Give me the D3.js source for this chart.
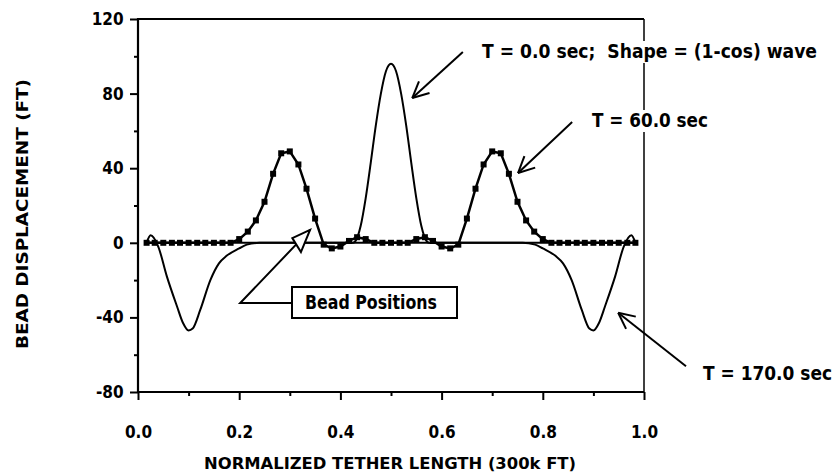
<!DOCTYPE html>
<html>
<meta charset="utf-8">
<script src="https://cdnjs.cloudflare.com/ajax/libs/d3/7.8.5/d3.min.js"></script>
<style>
  body { margin: 0; background: #fff; }
  text { font-family: "DejaVu Sans Condensed", "Liberation Sans Narrow", Arial, sans-serif; font-weight: bold; fill: #000; }
</style>
<body>
<svg width="840" height="474"></svg>
<script>
  // bead positions along the tether (normalized) and their displacement at T = 60 s
  var beadX = [0.017, 0.033, 0.050, 0.067, 0.083, 0.100, 0.117, 0.133, 0.150, 0.167,
    0.183, 0.200, 0.217, 0.233, 0.250, 0.267, 0.283, 0.300, 0.317, 0.333,
    0.350, 0.367, 0.383, 0.400, 0.417, 0.433, 0.450, 0.467, 0.483, 0.500,
    0.517, 0.533, 0.550, 0.567, 0.583, 0.600, 0.617, 0.633, 0.650, 0.667,
    0.683, 0.700, 0.717, 0.733, 0.750, 0.767, 0.783, 0.800, 0.817, 0.833,
    0.850, 0.867, 0.883, 0.900, 0.917, 0.933, 0.950, 0.967, 0.983];
  var beadY60 = [0, 0, 0, 0, 0, 0, 0, 0, 0, 0,
    0, 2, 6, 12, 22, 37, 48, 49, 42, 29,
    13, -1, -3, -2, 1, 3, 2, 0, 0, 0,
    0, 0, 2, 3, 1, -2, -3, -1, 13, 29,
    42, 49, 48, 37, 22, 12, 6, 2, 0, 0,
    0, 0, 0, 0, 0, 0, 0, 0, 0];

  // T = 0 s : (1-cos) pulse in the middle
  var x0 = [0.017, 0.420, 0.425, 0.430, 0.440, 0.450, 0.460, 0.470, 0.480, 0.490, 0.500,
    0.510, 0.520, 0.530, 0.540, 0.550, 0.560, 0.570, 0.575, 0.580, 0.983];
  var y0 = [0, 0, 0, 1, 9, 24, 43, 63, 80, 92, 96, 92, 80, 63, 43, 24, 9, 1, 0, 0, 0];

  // T = 170 s : reflected pulses near the ends
  var x170 = [0.017, 0.025, 0.040, 0.057, 0.077, 0.089, 0.100, 0.108, 0.123, 0.143, 0.160,
    0.175, 0.200, 0.215, 0.240, 0.760, 0.785, 0.800, 0.825, 0.840, 0.857, 0.877,
    0.892, 0.900, 0.911, 0.923, 0.943, 0.960, 0.975, 0.983];
  var y170 = [0, 4, -2, -18, -34, -43, -47, -46, -36, -20, -11,
    -7, -3, -1, 0, 0, -1, -3, -7, -11, -20, -36,
    -46, -47, -43, -34, -18, -2, 4, 0];

  var xTicks = [0, 0.2, 0.4, 0.6, 0.8, 1.0];
  var xMinor = [0.1, 0.3, 0.5, 0.7, 0.9];
  var yTicks = [-80, -40, 0, 40, 80, 120];
  var yMinor = [-60, -20, 20, 60, 100];

  var svg = d3.select("svg");
  var pLeft = 138, pRight = 644, pTop = 19, pBottom = 392;

  var x = d3.scaleLinear().domain([0, 1]).range([pLeft, pRight]);
  var y = d3.scaleLinear().domain([-80, 120]).range([pBottom, pTop]);

  // frame: heavy left/top/bottom, lighter right edge
  svg.append("line").attr("x1", pRight).attr("x2", pRight).attr("y1", pTop).attr("y2", pBottom)
    .attr("stroke", "#000").attr("stroke-width", 1.5);
  svg.append("path")
    .attr("d", "M" + pRight + "," + pTop + "H" + pLeft + "V" + pBottom + "H" + pRight)
    .attr("fill", "none").attr("stroke", "#000").attr("stroke-width", 2.2);

  // axes
  var xAxis = svg.append("g").attr("transform", "translate(0," + pBottom + ")");
  xAxis.call(d3.axisBottom(x).tickValues(xTicks).tickSize(8).tickFormat(d3.format(".1f")));
  xAxis.append("g").call(d3.axisBottom(x).tickValues(xMinor).tickSize(4).tickFormat(""));
  xAxis.selectAll("path").remove();
  xAxis.selectAll("line").attr("stroke-width", 2);
  xAxis.selectAll("text").attr("font-size", 17).attr("dy", "2.05em")
    .attr("font-family", null).attr("fill", "#000");

  var yAxis = svg.append("g").attr("transform", "translate(" + pLeft + ",0)");
  yAxis.call(d3.axisLeft(y).tickValues(yTicks).tickSize(8)
    .tickFormat(function (d) { return String(d); }));
  yAxis.append("g").call(d3.axisLeft(y).tickValues(yMinor).tickSize(4).tickFormat(""));
  yAxis.selectAll("path").remove();
  yAxis.selectAll("line").attr("stroke-width", 2);
  yAxis.selectAll("text").attr("font-size", 17).attr("dx", "-0.2em")
    .attr("font-family", null).attr("fill", "#000");

  // axis titles
  svg.append("text")
    .attr("x", 390).attr("y", 469)
    .attr("text-anchor", "middle").attr("font-size", 16)
    .attr("textLength", 372).attr("lengthAdjust", "spacingAndGlyphs")
    .text("NORMALIZED TETHER LENGTH (300k FT)");

  svg.append("text")
    .attr("transform", "translate(28,214) rotate(-90)")
    .attr("text-anchor", "middle").attr("font-size", 15)
    .attr("textLength", 270).attr("lengthAdjust", "spacingAndGlyphs")
    .text("BEAD DISPLACEMENT (FT)");

  // curves
  var smooth = d3.line().x(function (d) { return x(d[0]); }).y(function (d) { return y(d[1]); })
    .curve(d3.curveMonotoneX);
  var straight = d3.line().x(function (d) { return x(d[0]); }).y(function (d) { return y(d[1]); });

  svg.append("path").datum(d3.zip(x170, y170)).attr("d", smooth)
    .attr("fill", "none").attr("stroke", "#000").attr("stroke-width", 2);
  svg.append("path").datum(d3.zip(x0, y0)).attr("d", smooth)
    .attr("fill", "none").attr("stroke", "#000").attr("stroke-width", 2);
  svg.append("path").datum(d3.zip(beadX, beadY60)).attr("d", straight)
    .attr("fill", "none").attr("stroke", "#000").attr("stroke-width", 2.5);

  svg.selectAll(".bead").data(d3.zip(beadX, beadY60)).enter().append("rect")
    .attr("class", "bead")
    .attr("x", function (d) { return x(d[0]) - 3; })
    .attr("y", function (d) { return y(d[1]) - 3; })
    .attr("width", 6).attr("height", 6).attr("fill", "#000");

  // open arrowhead helper
  function arrow(x1, y1, x2, y2) {
    var a = Math.atan2(y2 - y1, x2 - x1), len = 18, spread = 0.45;
    svg.append("line").attr("x1", x1).attr("y1", y1).attr("x2", x2).attr("y2", y2)
      .attr("stroke", "#000").attr("stroke-width", 2);
    [-spread, spread].forEach(function (s) {
      svg.append("line").attr("x1", x2).attr("y1", y2)
        .attr("x2", x2 - len * Math.cos(a + s)).attr("y2", y2 - len * Math.sin(a + s))
        .attr("stroke", "#000").attr("stroke-width", 2);
    });
  }

  // labels with white backing (they cut the frame)
  function label(tx, ty, str, size, w) {
    var t = svg.append("text").attr("x", tx).attr("y", ty).attr("font-size", size)
      .attr("textLength", w).attr("lengthAdjust", "spacingAndGlyphs")
      .attr("xml:space", "preserve").text(str);
    svg.insert("rect", function () { return t.node(); })
      .attr("x", tx - 3).attr("y", ty - size * 0.85).attr("width", w + 6).attr("height", size * 1.1)
      .attr("fill", "#fff");
  }

  arrow(x(0.642), y(102.3), x(0.542), y(77.6));
  label(482, 58, "T = 0.0 sec;  Shape = (1-cos) wave", 20, 335);

  arrow(x(0.858), y(64.8), x(0.751), y(37.4));
  label(592, 127, "T = 60.0 sec", 20, 116);

  arrow(x(1.083), y(-66.2), x(0.949), y(-37.5));
  label(703, 380, "T = 170.0 sec", 20, 129);

  // bead positions callout
  var bx = 292, by = 287, bw = 165, bh = 31;
  svg.append("polyline")
    .attr("points", [[bx, y(-32.3)], [x(0.202), y(-32.3)], [x(0.34), y(6.9)]].join(" "))
    .attr("fill", "none").attr("stroke", "#000").attr("stroke-width", 2);
  svg.append("polygon")
    .attr("points", [[x(0.34), y(6.9)], [x(0.305), y(2.5)], [x(0.322), y(-5)]].join(" "))
    .attr("fill", "#fff").attr("stroke", "#000").attr("stroke-width", 2);
  svg.append("rect").attr("x", bx).attr("y", by).attr("width", bw).attr("height", bh)
    .attr("fill", "#fff").attr("stroke", "#000").attr("stroke-width", 2);
  svg.append("text").attr("x", bx + 13).attr("y", by + 22).attr("font-size", 19)
    .attr("textLength", 132).attr("lengthAdjust", "spacingAndGlyphs")
    .text("Bead Positions");
</script>
</body>
</html>
